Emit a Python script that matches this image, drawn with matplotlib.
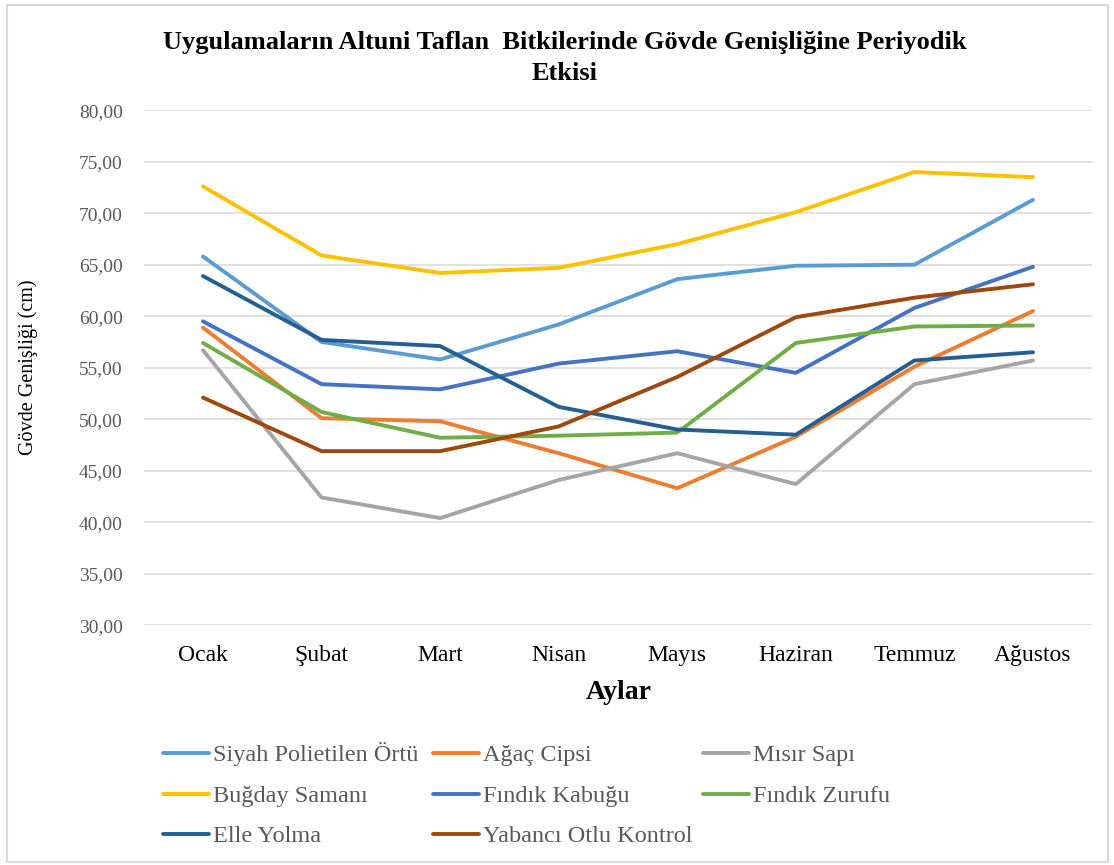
import matplotlib.pyplot as plt
from matplotlib.patches import Rectangle
from matplotlib.lines import Line2D

plt.rcParams['font.family'] = ['Liberation Serif', 'DejaVu Serif']

months = ["Ocak", "Şubat", "Mart", "Nisan", "Mayıs", "Haziran", "Temmuz", "Ağustos"]

siyah_polietilen = [65.8, 57.5, 55.8, 59.2, 63.6, 64.9, 65.0, 71.3]
agac_cipsi = [58.9, 50.1, 49.8, 46.7, 43.3, 48.3, 55.1, 60.5]
misir_sapi = [56.7, 42.4, 40.4, 44.1, 46.7, 43.7, 53.4, 55.7]
bugday_samani = [72.6, 65.9, 64.2, 64.7, 67.0, 70.1, 74.0, 73.5]
findik_kabugu = [59.5, 53.4, 52.9, 55.4, 56.6, 54.5, 60.8, 64.8]
findik_zurufu = [57.4, 50.7, 48.2, 48.4, 48.7, 57.4, 59.0, 59.1]
elle_yolma = [63.9, 57.7, 57.1, 51.2, 49.0, 48.5, 55.7, 56.5]
yabanci_otlu = [52.1, 46.9, 46.9, 49.3, 54.1, 59.9, 61.8, 63.1]

series = [
    ("Siyah Polietilen Örtü", siyah_polietilen, "#5B9BD5"),
    ("Ağaç Cipsi", agac_cipsi, "#ED7D31"),
    ("Mısır Sapı", misir_sapi, "#A5A5A5"),
    ("Buğday Samanı", bugday_samani, "#FFC000"),
    ("Fındık Kabuğu", findik_kabugu, "#4472C4"),
    ("Fındık Zurufu", findik_zurufu, "#70AD47"),
    ("Elle Yolma", elle_yolma, "#255E91"),
    ("Yabancı Otlu Kontrol", yabanci_otlu, "#9E480E"),
]

yticks = [30, 35, 40, 45, 50, 55, 60, 65, 70, 75, 80]

W, H = 1114, 865
fig = plt.figure(figsize=(W / 100, H / 100), dpi=100)
ax = fig.add_axes([0.129, 0.2772, 0.8515, 0.5954])

x = list(range(len(months)))
for name, vals, col in series:
    ax.plot(x, vals, '-', color=col, lw=2.8, label=name,
            solid_joinstyle='round', solid_capstyle='round', zorder=3)

ax.set_xlim(-0.5, len(months) - 0.5)
ax.set_ylim(30, 80)
ax.set_yticks(yticks)
ax.set_yticklabels([("%.2f" % v).replace('.', ',') for v in yticks])
ax.set_xticks(x)
ax.set_xticklabels(months)
ax.grid(axis='y', color='#D9D9D9', lw=1.1)
ax.set_axisbelow(True)
for s in ax.spines.values():
    s.set_visible(False)
ax.tick_params(axis='both', length=0)
ax.tick_params(axis='y', labelsize=14, labelcolor='#595959', pad=15)
ax.tick_params(axis='x', labelsize=17, labelcolor='#000000', pad=14)

# title, two lines as in the original
fig.text(0.507, 1 - 49 / H, "Uygulamaların Altuni Taflan  Bitkilerinde Gövde Genişliğine Periyodik",
         ha='center', va='baseline', fontsize=19, fontweight='bold')
fig.text(0.507, 1 - 80 / H, "Etkisi", ha='center', va='baseline', fontsize=19, fontweight='bold')
fig.text(0.555, 1 - 699 / H, "Aylar", ha='center', va='baseline', fontsize=20, fontweight='bold')
fig.text(28 / W, 0.576, "Gövde Genişliği (cm)", ha='center', va='center',
         rotation=90, fontsize=14.5)

# legend, 3 equal columns like Excel
col_x = [163, 433, 703]
row_y = [753, 794, 834]
for i, (name, vals, col) in enumerate(series):
    cx = col_x[i % 3]
    ry = row_y[i // 3]
    fig.add_artist(Line2D([cx / W, (cx + 46) / W], [1 - ry / H, 1 - ry / H],
                          transform=fig.transFigure, color=col, lw=2.8,
                          solid_capstyle='round'))
    fig.text((cx + 50) / W, 1 - (ry + 8) / H, name, ha='left', va='baseline',
             fontsize=17.5, color='#595959')

fig.add_artist(Rectangle((7 / W, 3 / H), 1101 / W, 857 / H, transform=fig.transFigure,
                         fill=False, edgecolor='#D9D9D9', lw=1.5))

fig.savefig("out.png", dpi=100)
